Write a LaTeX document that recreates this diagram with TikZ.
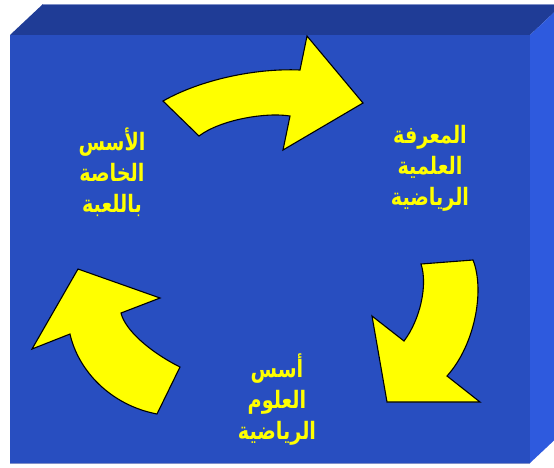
\documentclass[tikz,border=0pt]{standalone}
\usepackage{fontspec}
\newfontfamily\arabicfont[Script=Arabic,FakeStretch=0.8]{DejaVu Sans}
\TeXXeTstate=1
\definecolor{frontblue}{HTML}{284EC0}
\definecolor{topblue}{HTML}{1F3C96}
\definecolor{sideblue}{HTML}{2E5ADE}
\definecolor{edgeblue}{HTML}{7F90C8}
\definecolor{arrowyellow}{HTML}{FFFF00}
\tikzset{
  cyclearrow/.style={fill=arrowyellow,draw=black,line width=1.1pt,line join=miter},
  label/.style={text=arrowyellow,align=center,font=\arabicfont\bfseries\fontsize{24}{31}\selectfont}
}
\begin{document}
\begin{tikzpicture}[x=1pt,y=-1pt]
\useasboundingbox (0,0) rectangle (554,467);
% box faces
\fill[topblue] (10,35) -- (43,4) -- (563,4) -- (530,35) -- cycle;
\fill[sideblue] (530,35) -- (563,4) -- (563,432) -- (530,463) -- cycle;
\fill[frontblue] (10,35) rectangle (530,463);
\draw[edgeblue,line width=0.8pt] (43,4.4) -- (563,4.4);
\draw[edgeblue,line width=0.8pt] (10,463.5) -- (530,463.5);
% top arrow
\draw[cyclearrow] (163,101) .. controls (200,80) and (255,68) .. (300,70)
  -- (307,36) -- (363,103) -- (283,150) -- (290,116)
  .. controls (265,112) and (220,120) .. (199,136) -- cycle;
% right arrow
\draw[cyclearrow] (473,260) .. controls (485,290) and (475,345) .. (447,376)
  -- (480,402) -- (387,402) -- (372,316) -- (404,341)
  .. controls (420,320) and (428,285) .. (421,264) -- cycle;
% left arrow
\draw[cyclearrow] (157,414) .. controls (110,405) and (78,370) .. (70,334)
  -- (32,349) -- (78,269) -- (160,298) -- (121,313)
  .. controls (125,330) and (150,352) .. (180,367) -- cycle;
% labels
\node[label] (lgame) at (112,172) {\beginR الأسس\endR\\\beginR الخاصة\endR\\\beginR باللعبة\endR};
\node[label] (lknow) at (430,168) {\beginR المعرفة\endR\\\beginR العلمية\endR\\\beginR الرياضية\endR};
\node[label] (lbase) at (277,400) {\beginR أسس\endR\\\beginR العلوم\endR\\\beginR الرياضية\endR};
\end{tikzpicture}
\end{document}
